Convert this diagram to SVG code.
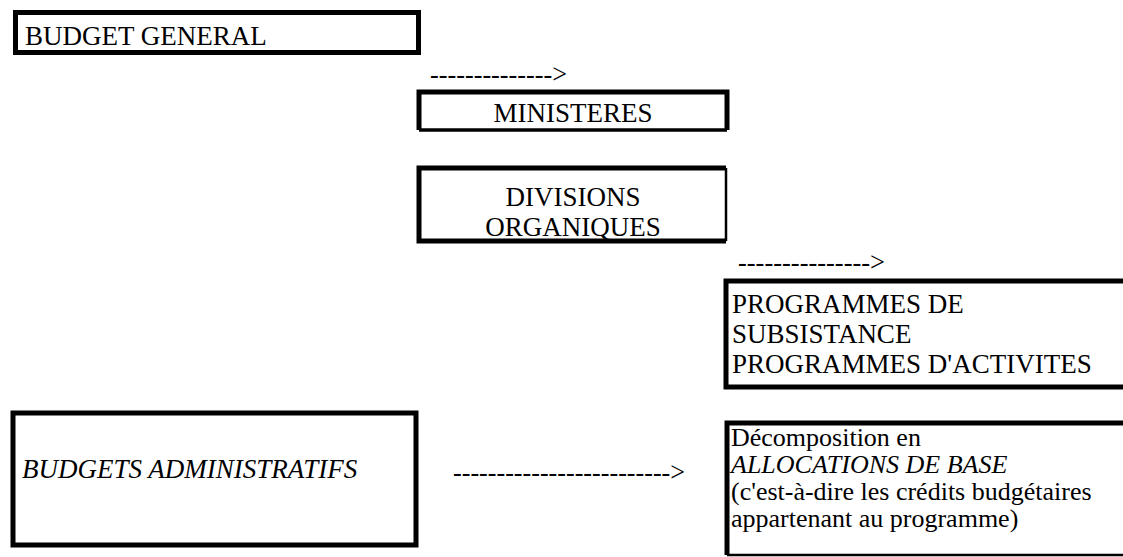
<svg xmlns="http://www.w3.org/2000/svg" width="1123" height="557" viewBox="0 0 1123 557">
<style>
.box{fill:none;stroke:#000;stroke-width:5}
.thin{fill:none;stroke:#000;stroke-width:2.5}
.t{font-family:"Liberation Serif","Times New Roman",serif;font-size:27px;fill:#000}
.s{font-size:26px}
.c{text-anchor:middle}
.i{font-style:italic}
.arr{font-family:"Liberation Serif","Times New Roman",serif;font-size:27px;fill:#000}
</style>
<rect width="1123" height="557" fill="#fff"/>
<g id="budget-general">
<rect class="box" x="15.5" y="12.5" width="403" height="40"/>
<text class="t" x="25" y="45">BUDGET GENERAL</text>
</g>
<g id="ministeres">
<path class="box" d="M419 130 V92 H727 V130"/>
<path class="box" style="stroke-width:3.5" d="M419 130 H727"/>
<text class="t c" x="573" y="122">MINISTERES</text>
</g>
<g id="divisions">
<path class="box" d="M726 168 H419 V241 H726"/>
<path class="thin" d="M726 168 V241"/>
<text class="t c" x="573" y="206">DIVISIONS</text>
<text class="t c" x="573" y="236">ORGANIQUES</text>
</g>
<g id="programmes">
<path class="box" d="M1125 281 H726 V387 H1125"/>
<text class="t" x="732" y="313">PROGRAMMES DE</text>
<text class="t" x="732" y="343">SUBSISTANCE</text>
<text class="t" x="732" y="373">PROGRAMMES D'ACTIVITES</text>
</g>
<g id="budgets-administratifs">
<rect class="box" x="13" y="413" width="403" height="132"/>
<text class="t i" x="22" y="478">BUDGETS ADMINISTRATIFS</text>
</g>
<g id="decomposition">
<path class="box" d="M1125 423 H727 V555"/>
<path class="thin" d="M727 555 H1125"/>
<text class="t s" x="731" y="446">Décomposition en</text>
<text class="t s i" x="731" y="473">ALLOCATIONS DE BASE</text>
<text class="t s" x="731" y="500">(c'est-à-dire les crédits budgétaires</text>
<text class="t s" x="731" y="527">appartenant au programme)</text>
</g>
<g id="connectors">
<text class="arr" x="430" y="83" textLength="137" lengthAdjust="spacingAndGlyphs">--------------&gt;</text>
<text class="arr" x="738" y="271" textLength="147" lengthAdjust="spacingAndGlyphs">---------------&gt;</text>
<text class="arr" x="453" y="481" textLength="232" lengthAdjust="spacingAndGlyphs">-------------------------&gt;</text>
</g>
</svg>
